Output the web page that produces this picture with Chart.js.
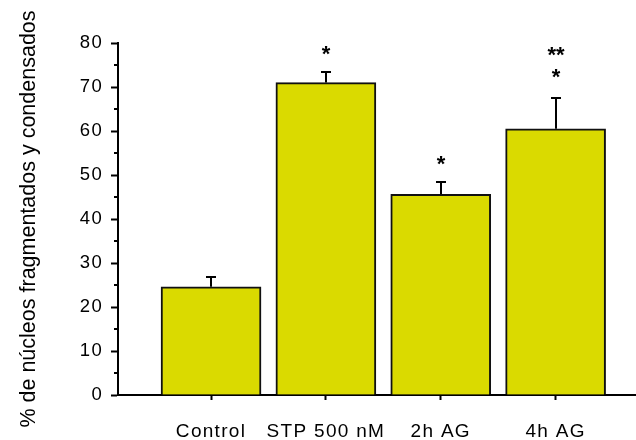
<!DOCTYPE html>
<html lang="es">
<head>
<meta charset="UTF-8">
<style>
    body { margin: 0; background: #fff; }
    #wrap { width: 636px; height: 440px; }
</style>
<title>Núcleos fragmentados</title>
</head>
<body>
<div id="wrap"><canvas id="chart" width="636" height="440"></canvas></div>
<script src="https://cdn.jsdelivr.net/npm/chart.js"></script>
<script>
const categories = ['Control', 'STP 500 nM', '2h AG', '4h AG'];
const means = [24.6, 71.0, 45.6, 60.5];
const errors = [2.15, 2.4, 2.8, 7.0];
// significance marks, listed from the bottom line up
const stars = [[], ['*'], ['*'], ['*', '**']];
const yTicks = [0, 10, 20, 30, 40, 50, 60, 70, 80];
const minorTicks = [5, 15, 25, 35, 45, 55, 65, 75];
const yTitle = '% de núcleos fragmentados y condensados';

Chart.defaults.font.family = "'Liberation Sans', Arial, sans-serif";
Chart.defaults.color = '#000';

// error bars, minor y ticks and asterisks
const extras = {
    id: 'extras',
    beforeDraw(chart) {
        chart.ctx.letterSpacing = '0px';
    },
    afterDatasetsDraw(chart) {
        const { ctx } = chart;
        const x = chart.scales.x, y = chart.scales.y;
        ctx.save();
        ctx.strokeStyle = '#000';
        ctx.lineWidth = 2;

        minorTicks.forEach(v => {
            const py = Math.round(y.getPixelForValue(v));
            ctx.beginPath();
            ctx.moveTo(x.left - 4, py);
            ctx.lineTo(x.left, py);
            ctx.stroke();
        });

        means.forEach((m, i) => {
            const px = Math.round(x.getPixelForValue(i));
            const top = y.getPixelForValue(m);
            const hi = Math.round(y.getPixelForValue(m + errors[i]));
            ctx.beginPath();
            ctx.moveTo(px, top);
            ctx.lineTo(px, hi);
            ctx.moveTo(px - 5, hi);
            ctx.lineTo(px + 5, hi);
            ctx.stroke();

            ctx.fillStyle = '#000';
            ctx.font = "bold 22px 'Liberation Sans', Arial, sans-serif";
            ctx.textAlign = 'center';
            ctx.textBaseline = 'alphabetic';
            const lift = stars[i].length > 1 ? 26 : 23;
            stars[i].forEach((s, k) => {
                ctx.fillText(s, px, hi - lift - k * 22 + 12);
            });
        });
        ctx.restore();
        ctx.letterSpacing = '1.3px';
    },
    afterDraw(chart) {
        chart.ctx.letterSpacing = '0px';
    }
};

new Chart(document.getElementById('chart'), {
    type: 'bar',
    data: {
        datasets: [{
            data: means.map((m, i) => ({ x: i, y: m })),
            backgroundColor: '#DADA00',
            borderColor: '#111',
            borderWidth: 2,
            barThickness: 100
        }]
    },
    options: {
        responsive: false,
        animation: false,
        layout: { padding: { top: 43, right: 0, bottom: 0, left: 0 } },
        plugins: {
            legend: { display: false },
            tooltip: { enabled: false }
        },
        scales: {
            x: {
                type: 'linear',
                min: -0.81,
                max: 3.7,
                offset: false,
                afterFit(s) { s.height = 45; },
                afterBuildTicks(s) { s.ticks = categories.map((c, i) => ({ value: i })); },
                ticks: {
                    autoSkip: false,
                    maxRotation: 0,
                    padding: 20,
                    z: 1,
                    font: { size: 19 },
                    callback: v => categories[v]
                },
                grid: { offset: false, drawOnChartArea: false, tickLength: 5, tickWidth: 2, tickColor: '#000' },
                border: { color: '#000', width: 2 }
            },
            y: {
                min: 0,
                max: 80,
                afterFit(s) { s.width = 118; },
                afterBuildTicks(s) { s.ticks = yTicks.map(v => ({ value: v })); },
                ticks: { padding: 8, z: 1, font: { size: 18.5 } },
                grid: { drawOnChartArea: false, tickLength: 7, tickWidth: 2, tickColor: '#000' },
                border: { color: '#000', width: 2 },
                title: {
                    display: true,
                    text: yTitle,
                    font: { size: 21.5 },
                    padding: { top: 16, bottom: 0 }
                }
            }
        }
    },
    plugins: [extras]
});
</script>
</body>
</html>
